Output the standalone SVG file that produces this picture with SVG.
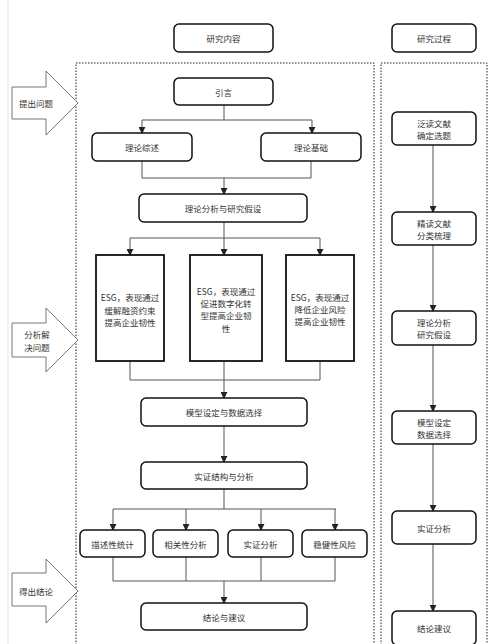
<svg xmlns="http://www.w3.org/2000/svg" width="500" height="644" viewBox="0 0 500 644">
<style>
.box{fill:#fff;stroke:#111;stroke-width:1.5}
.tall{fill:#fff;stroke:#111;stroke-width:1.8}
.frame{fill:none;stroke:#222;stroke-width:1;stroke-dasharray:1.5,1.5}
.ln{fill:none;stroke:#555;stroke-width:1}
.big{fill:#fff;stroke:#777;stroke-width:1}
text{font-family:"Noto Sans CJK SC","Noto Sans",sans-serif;font-size:8.5px;fill:#333;text-anchor:middle;dominant-baseline:central}
</style>
<defs>
<marker id="ah" viewBox="0 0 8 8" refX="7" refY="4" markerWidth="7" markerHeight="7" markerUnits="userSpaceOnUse" orient="auto">
<path d="M0,0 L8,4 L0,8 z" fill="#222"/>
</marker>
</defs>
<rect width="500" height="644" fill="#fff"/>
<line x1="8" y1="0" x2="8" y2="644" stroke="#e2e2e2" stroke-width="1"/>
<rect class="frame" x="76" y="63" width="298" height="590"/>
<rect class="frame" x="381" y="63" width="106" height="590"/>

<g id="connectors">
<path class="ln" d="M224,105 V120 M142,120 H312"/>
<path class="ln" d="M142,120 V133" marker-end="url(#ah)"/>
<path class="ln" d="M312,120 V133" marker-end="url(#ah)"/>
<path class="ln" d="M142,161 V178 H311 V161"/>
<path class="ln" d="M224,178 V194" marker-end="url(#ah)"/>
<path class="ln" d="M224,222 V238 M130,238 H320"/>
<path class="ln" d="M130,238 V255" marker-end="url(#ah)"/>
<path class="ln" d="M224,238 V255" marker-end="url(#ah)"/>
<path class="ln" d="M320,238 V255" marker-end="url(#ah)"/>
<path class="ln" d="M130,361 V380 H320 V361 M224,361 V380"/>
<path class="ln" d="M224,380 V398" marker-end="url(#ah)"/>
<path class="ln" d="M224,426 V462" marker-end="url(#ah)"/>
<path class="ln" d="M224,489 V509 M113,509 H336"/>
<path class="ln" d="M113,509 V530" marker-end="url(#ah)"/>
<path class="ln" d="M186,509 V530" marker-end="url(#ah)"/>
<path class="ln" d="M261,509 V530" marker-end="url(#ah)"/>
<path class="ln" d="M335,509 V530" marker-end="url(#ah)"/>
<path class="ln" d="M113,557 V581 H335 V557 M186,557 V581 M261,557 V581"/>
<path class="ln" d="M224,581 V603" marker-end="url(#ah)"/>
<path class="ln" d="M433,145 V212" marker-end="url(#ah)"/>
<path class="ln" d="M433,245 V311" marker-end="url(#ah)"/>
<path class="ln" d="M433,345 V411" marker-end="url(#ah)"/>
<path class="ln" d="M433,444 V511" marker-end="url(#ah)"/>
<path class="ln" d="M433,544 V611" marker-end="url(#ah)"/>
</g>

<g id="arrow-tichu">
<path class="big" d="M12,87 H46 V71 L78,103 L46,135 V119 H12 Z"/>
<text x="36" y="103">提出问题</text>
</g>
<g id="arrow-fenxi">
<path class="big" d="M12,323 H46 V308 L78,340 L46,372 V357 H12 Z"/>
<text x="37" y="334">分析解</text>
<text x="37" y="347">决问题</text>
</g>
<g id="arrow-dechu">
<path class="big" d="M12,573 H46 V559 L78,591 L46,623 V606 H12 Z"/>
<text x="36" y="591">得出结论</text>
</g>

<g id="n-neirong"><rect class="box" x="174" y="24" width="99" height="28" rx="5"/><text x="223.5" y="38">研究内容</text></g>
<g id="n-guocheng"><rect class="box" x="392" y="24" width="84" height="28" rx="5"/><text x="434" y="38">研究过程</text></g>

<g id="n-yinyan"><rect class="box" x="174" y="78" width="99" height="27" rx="5"/><text x="223.5" y="91.5">引言</text></g>
<g id="n-zongshu"><rect class="box" x="92" y="133" width="100" height="28" rx="5"/><text x="142" y="147">理论综述</text></g>
<g id="n-jichu"><rect class="box" x="261" y="133" width="100" height="28" rx="5"/><text x="311" y="147">理论基础</text></g>
<g id="n-jiashe"><rect class="box" x="139" y="194" width="168" height="28" rx="5"/><text x="223" y="208">理论分析与研究假设</text></g>

<g id="n-h1"><rect class="tall" x="96" y="255" width="68" height="106"/>
<text x="130" y="297">ESG，表现通过</text><text x="130" y="310">缓解融资约束</text><text x="130" y="322">提高企业韧性</text></g>
<g id="n-h2"><rect class="tall" x="190" y="255" width="72" height="106"/>
<text x="226" y="291">ESG，表现通过</text><text x="226" y="303">促进数字化转</text><text x="226" y="315">型提高企业韧</text><text x="226" y="328">性</text></g>
<g id="n-h3"><rect class="tall" x="286" y="255" width="68" height="106"/>
<text x="320" y="297">ESG，表现通过</text><text x="320" y="309">降低企业风险</text><text x="320" y="321">提高企业韧性</text></g>

<g id="n-moxing"><rect class="box" x="141" y="398" width="166" height="28" rx="5"/><text x="224" y="412">模型设定与数据选择</text></g>
<g id="n-shizheng"><rect class="box" x="141" y="462" width="166" height="27" rx="5"/><text x="224" y="475.5">实证结构与分析</text></g>

<g id="n-miaoshu"><rect class="box" x="80" y="530" width="65" height="27" rx="5"/><text x="112.5" y="543.5">描述性统计</text></g>
<g id="n-xiangguan"><rect class="box" x="153" y="530" width="65" height="27" rx="5"/><text x="185.5" y="543.5">相关性分析</text></g>
<g id="n-shizhengfx"><rect class="box" x="228" y="530" width="65" height="27" rx="5"/><text x="260.5" y="543.5">实证分析</text></g>
<g id="n-wenjian"><rect class="box" x="302" y="530" width="65" height="27" rx="5"/><text x="334.5" y="543.5">稳健性风险</text></g>

<g id="n-jielun"><rect class="box" x="141" y="603" width="166" height="27" rx="5"/><text x="224" y="616.5">结论与建议</text></g>

<g id="r1"><rect class="box" x="392" y="112" width="84" height="33" rx="5"/><text x="434" y="123">泛读文献</text><text x="434" y="135">确定选题</text></g>
<g id="r2"><rect class="box" x="392" y="212" width="84" height="33" rx="5"/><text x="434" y="223">精读文献</text><text x="434" y="235">分类梳理</text></g>
<g id="r3"><rect class="box" x="392" y="311" width="84" height="34" rx="5"/><text x="434" y="322">理论分析</text><text x="434" y="334">研究假设</text></g>
<g id="r4"><rect class="box" x="392" y="411" width="84" height="33" rx="5"/><text x="434" y="422">模型设定</text><text x="434" y="434">数据选择</text></g>
<g id="r5"><rect class="box" x="392" y="511" width="84" height="33" rx="5"/><text x="434" y="527.5">实证分析</text></g>
<g id="r6"><rect class="box" x="392" y="611" width="84" height="34" rx="5"/><text x="434" y="628">结论建议</text></g>
</svg>
